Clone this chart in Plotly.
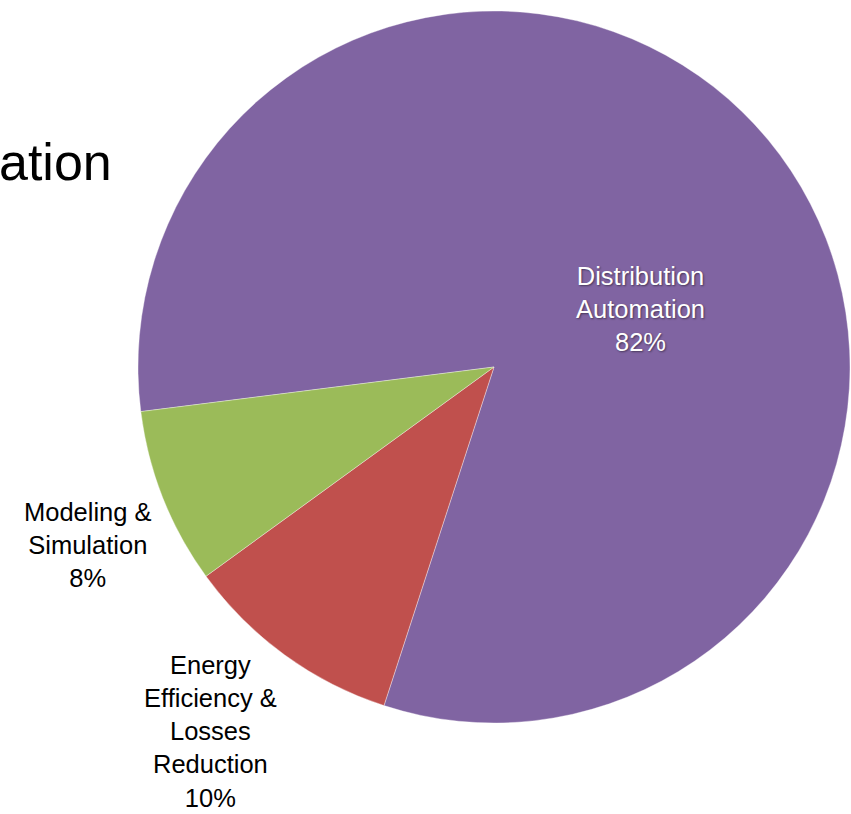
import plotly.graph_objects as go

# Share of projects by research area
categories = ["Distribution<br>Automation", "Energy<br>Efficiency &<br>Losses<br>Reduction", "Modeling &<br>Simulation"]
shares = [82, 10, 8]
slice_colors = ["#8064A2", "#C0504D", "#9BBB59"]
label_colors = ["white", "black", "black"]
# label anchor points in pixels (x from left, y from top)
label_px = [(640, 309), (210, 731), (88, 545)]

W, H = 851, 814
LABEL_FONT = "Liberation Sans, Arial, sans-serif"

fig = go.Figure(
    go.Pie(
        labels=categories,
        values=shares,
        sort=False,
        direction="clockwise",
        rotation=262.8,
        marker=dict(colors=slice_colors, line=dict(color="rgba(255,255,255,0.6)", width=0.6)),
        textinfo="none",
        domain=dict(x=[138 / W, 850 / W], y=[(H - 723) / H, (H - 11) / H]),
        automargin=False,
        showlegend=False,
        hoverinfo="label+percent",
    )
)

# Slice labels: category name with its share
for cat, val, col, (px, py) in zip(categories, shares, label_colors, label_px):
    font = dict(family=LABEL_FONT, size=25.5, color=col)
    if col == "white":
        font["shadow"] = "1px 1px 2px rgba(0,0,0,0.45)"
    fig.add_annotation(
        text=f"{cat}<br>{val}%",
        xref="paper", yref="paper",
        x=px / W, y=1 - py / H,
        xanchor="center", yanchor="middle",
        align="center",
        showarrow=False,
        borderpad=0,
        font=font,
    )

# Slide title, running off the left edge
fig.add_annotation(
    text="ation",
    xref="paper", yref="paper",
    x=-3 / W, y=1 - 162 / H,
    xanchor="left", yanchor="middle",
    showarrow=False,
    font=dict(family=LABEL_FONT, size=52, color="black"),
)

fig.update_layout(
    width=W, height=H,
    margin=dict(l=0, r=0, t=0, b=0),
    paper_bgcolor="white",
    plot_bgcolor="white",
)

fig.write_html("out.html")
